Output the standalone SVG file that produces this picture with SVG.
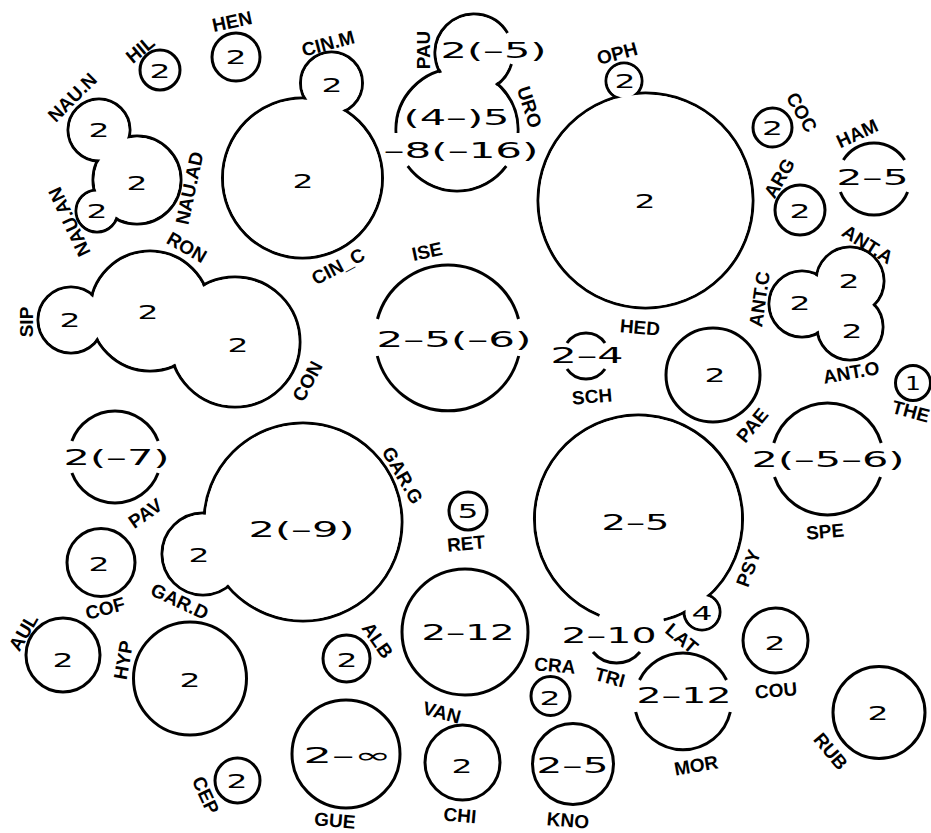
<svg xmlns="http://www.w3.org/2000/svg" width="931" height="833" viewBox="0 0 931 833">
<style>
.c{fill:none;stroke:#000;stroke-width:3}
.w{fill:#fff;stroke:none}
.n{font-family:"DejaVu Sans",sans-serif;font-size:21px;fill:#000}
.s{font-size:19px}
.l{font-family:"Liberation Sans",Arial,sans-serif;font-weight:bold;font-size:19px;text-anchor:middle;fill:#000}
</style>
<rect width="931" height="833" fill="#fff"/>

<g id="HIL"><circle class="c" cx="160" cy="70" r="20"/><text class="n s" x="149.5" y="78" textLength="21" lengthAdjust="spacingAndGlyphs">2</text><text class="l" x="140" y="49" dy="7" transform="rotate(-40 140 49)">HIL</text></g>
<g id="HEN"><circle class="c" cx="236" cy="57" r="24"/><text class="n s" x="225.5" y="64" textLength="21" lengthAdjust="spacingAndGlyphs">2</text><text class="l" x="232" y="21" dy="7" transform="rotate(-12 232 21)">HEN</text></g>

<g id="NAU">
<circle class="c" cx="99" cy="130" r="31"/><circle class="c" cx="137" cy="180" r="44"/><circle class="c" cx="97" cy="211" r="21"/>
<circle class="w" cx="99" cy="130" r="29.5"/><circle class="w" cx="137" cy="180" r="42.5"/><circle class="w" cx="97" cy="211" r="19.5"/>
<text class="n s" x="88.5" y="137" textLength="21" lengthAdjust="spacingAndGlyphs">2</text>
<text class="n s" x="126.5" y="190" textLength="21" lengthAdjust="spacingAndGlyphs">2</text>
<text class="n s" x="86.5" y="218" textLength="21" lengthAdjust="spacingAndGlyphs">2</text>
<text class="l" x="72" y="97" dy="7" transform="rotate(-45 72 97)">NAU.N</text>
<text class="l" x="189" y="188" dy="7" transform="rotate(-78 189 188)">NAU.AD</text>
<text class="l" x="69" y="222" dy="7" transform="rotate(-115 69 222)">NAU.AN</text>
</g>

<g id="CIN">
<circle class="c" cx="331.5" cy="83" r="31"/><circle class="c" cx="302.5" cy="178" r="80"/>
<circle class="w" cx="331.5" cy="83" r="29.5"/><circle class="w" cx="302.5" cy="178" r="78.5"/>
<text class="n s" x="321.5" y="92" textLength="21" lengthAdjust="spacingAndGlyphs">2</text>
<text class="n s" x="292.5" y="188" textLength="21" lengthAdjust="spacingAndGlyphs">2</text>
<text class="l" x="328" y="43" dy="7" transform="rotate(-15 328 43)">CIN.M</text>
<text class="l" x="338" y="266" dy="7" transform="rotate(-28 338 266)">CIN_C</text>
</g>

<g id="PAU_URO">
<path class="c" d="M511.4 64A39 39 0 1 1 507.5 33"/>
<path class="c" d="M396.1 133A61 61 0 1 1 517.9 133"/>
<path class="c" d="M506.2 166A61 61 0 0 1 407.8 166"/>
<circle class="w" cx="474" cy="53" r="37.5"/><circle class="w" cx="457" cy="130" r="59.5"/>
<text class="n" x="440.5" y="58" textLength="106" lengthAdjust="spacingAndGlyphs">2(–5)</text>
<text class="n" x="403.5" y="125" textLength="106" lengthAdjust="spacingAndGlyphs">(4–)5</text>
<text class="n" x="383.5" y="158" textLength="155" lengthAdjust="spacingAndGlyphs">–8(–16)</text>
<text class="l" x="423" y="50" dy="7" transform="rotate(-90 423 50)">PAU</text>
<text class="l" x="530" y="107" dy="7" transform="rotate(72 530 107)">URO</text>
</g>

<g id="HED_OPH">
<circle class="c" cx="624" cy="81" r="18"/><circle class="c" cx="645.5" cy="200.5" r="107.5"/>
<circle class="w" cx="624" cy="81" r="16.5"/><circle class="w" cx="645.5" cy="200.5" r="106"/>
<text class="n s" x="614.5" y="88" textLength="21" lengthAdjust="spacingAndGlyphs">2</text>
<text class="n s" x="634.5" y="208" textLength="21" lengthAdjust="spacingAndGlyphs">2</text>
<text class="l" x="617" y="53" dy="7" transform="rotate(-15 617 53)">OPH</text>
<text class="l" x="640" y="327" dy="7" transform="rotate(5 640 327)">HED</text>
</g>

<g id="COC"><circle class="c" cx="772.5" cy="127.5" r="19.5"/><text class="n s" x="762" y="135" textLength="21" lengthAdjust="spacingAndGlyphs">2</text><text class="l" x="802" y="112" dy="7" transform="rotate(60 802 112)">COC</text></g>
<g id="ARG"><circle class="c" cx="800" cy="210" r="25"/><text class="n s" x="789.5" y="218" textLength="21" lengthAdjust="spacingAndGlyphs">2</text><text class="l" x="779" y="178" dy="7" transform="rotate(-60 779 178)">ARG</text></g>
<g id="HAM">
<path class="c" d="M843.4 160A36 36 0 0 1 904.6 160"/><path class="c" d="M907.6 192A36 36 0 0 1 840.4 192"/>
<text class="n" x="836.5" y="185" textLength="72" lengthAdjust="spacingAndGlyphs">2–5</text>
<text class="l" x="857" y="133" dy="7" transform="rotate(-25 857 133)">HAM</text>
</g>

<g id="ANT">
<circle class="c" cx="850" cy="281" r="34"/><circle class="c" cx="802" cy="304" r="33"/><circle class="c" cx="850" cy="327" r="33"/>
<circle class="w" cx="850" cy="281" r="32.5"/><circle class="w" cx="802" cy="304" r="31.5"/><circle class="w" cx="850" cy="327" r="31.5"/>
<text class="n s" x="838.5" y="288" textLength="21" lengthAdjust="spacingAndGlyphs">2</text>
<text class="n s" x="789.5" y="310" textLength="21" lengthAdjust="spacingAndGlyphs">2</text>
<text class="n s" x="841.5" y="338" textLength="21" lengthAdjust="spacingAndGlyphs">2</text>
<text class="l" x="868" y="244" dy="7" transform="rotate(32 868 244)">ANT.A</text>
<text class="l" x="759" y="299" dy="7" transform="rotate(-82 759 299)">ANT.C</text>
<text class="l" x="851" y="372" dy="7" transform="rotate(-10 851 372)">ANT.O</text>
</g>

<g id="THE"><circle class="c" cx="913" cy="383" r="17.5"/><text class="n s" x="905" y="390" textLength="16" lengthAdjust="spacingAndGlyphs">1</text><text class="l" x="911" y="411" dy="7" transform="rotate(15 911 411)">THE</text></g>
<g id="PAE"><circle class="c" cx="713" cy="375" r="47"/><text class="n s" x="704.5" y="382" textLength="21" lengthAdjust="spacingAndGlyphs">2</text><text class="l" x="752" y="425" dy="7" transform="rotate(-50 752 425)">PAE</text></g>

<g id="SIP_RON_CON">
<circle class="c" cx="71" cy="320" r="33"/><circle class="c" cx="150" cy="311" r="60"/><circle class="c" cx="235" cy="342" r="65"/>
<circle class="w" cx="71" cy="320" r="31.5"/><circle class="w" cx="150" cy="311" r="58.5"/><circle class="w" cx="235" cy="342" r="63.5"/>
<text class="n s" x="59.5" y="327" textLength="21" lengthAdjust="spacingAndGlyphs">2</text>
<text class="n s" x="137.5" y="319" textLength="21" lengthAdjust="spacingAndGlyphs">2</text>
<text class="n s" x="227.5" y="352" textLength="21" lengthAdjust="spacingAndGlyphs">2</text>
<text class="l" x="26" y="322" dy="7" transform="rotate(-90 26 322)">SIP</text>
<text class="l" x="187" y="247" dy="7" transform="rotate(30 187 247)">RON</text>
<text class="l" x="307" y="381" dy="7" transform="rotate(-62 307 381)">CON</text>
</g>

<g id="ISE">
<path class="c" d="M377.5 319A73 73 0 0 1 518.5 319"/><path class="c" d="M518.7 356A73 73 0 0 1 377.3 356"/>
<text class="n" x="376.5" y="347" textLength="155" lengthAdjust="spacingAndGlyphs">2–5(–6)</text>
<text class="l" x="427" y="251" dy="7" transform="rotate(-12 427 251)">ISE</text>
</g>
<g id="SCH">
<path class="c" d="M567 343A23 23 0 0 1 605 343"/><path class="c" d="M605 369A23 23 0 0 1 567 369"/>
<text class="n" x="550.5" y="363" textLength="73" lengthAdjust="spacingAndGlyphs">2–4</text>
<text class="l" x="592" y="396" dy="7" transform="rotate(-5 592 396)">SCH</text>
</g>

<g id="PAV">
<path class="c" d="M71.9 441A46 46 0 0 1 158.1 441"/><path class="c" d="M158.1 473A46 46 0 0 1 71.9 473"/>
<text class="n" x="63.5" y="465" textLength="106" lengthAdjust="spacingAndGlyphs">2(–7)</text>
<text class="l" x="145" y="513" dy="7" transform="rotate(-35 145 513)">PAV</text>
</g>

<g id="GAR">
<circle class="c" cx="303" cy="522" r="99"/><circle class="c" cx="203" cy="554" r="41"/>
<circle class="w" cx="303" cy="522" r="97.5"/><circle class="w" cx="203" cy="554" r="39.5"/>
<text class="n" x="248.5" y="537" textLength="106" lengthAdjust="spacingAndGlyphs">2(–9)</text>
<text class="n s" x="188.5" y="562" textLength="21" lengthAdjust="spacingAndGlyphs">2</text>
<text class="l" x="403" y="475" dy="7" transform="rotate(60 403 475)">GAR.G</text>
<text class="l" x="180" y="601" dy="7" transform="rotate(25 180 601)">GAR.D</text>
</g>

<g id="COF"><circle class="c" cx="101" cy="562.5" r="34"/><text class="n s" x="88.5" y="571" textLength="21" lengthAdjust="spacingAndGlyphs">2</text><text class="l" x="105" y="608" dy="7" transform="rotate(-15 105 608)">COF</text></g>
<g id="RET"><circle class="c" cx="468" cy="511" r="19"/><text class="n s" x="457.5" y="518" textLength="21" lengthAdjust="spacingAndGlyphs">5</text><text class="l" x="466" y="543" dy="7" transform="rotate(-5 466 543)">RET</text></g>

<g id="SPE">
<path class="c" d="M773.8 443A56 56 0 0 1 881.2 443"/><path class="c" d="M880.5 477A56 56 0 0 1 774.5 477"/>
<text class="n" x="751.5" y="467" textLength="153" lengthAdjust="spacingAndGlyphs">2(–5–6)</text>
<text class="l" x="825" y="531" dy="7" transform="rotate(-5 825 531)">SPE</text>
</g>

<g id="PSY_LAT">
<path class="c" d="M599.5 615.4A104 104 0 1 1 663.7 619.9"/>
<circle class="c" cx="702" cy="612" r="18"/>
<circle class="w" cx="638.5" cy="519" r="102.5"/><circle class="w" cx="702" cy="612" r="16.5"/>
<text class="n" x="601.5" y="530" textLength="68" lengthAdjust="spacingAndGlyphs">2–5</text>
<text class="n s" x="691.5" y="620" textLength="21" lengthAdjust="spacingAndGlyphs">4</text>
<text class="l" x="748" y="568" dy="7" transform="rotate(-70 748 568)">PSY</text>
<text class="l" x="682" y="638" dy="7" transform="rotate(40 682 638)">LAT</text>
</g>

<g id="TRI">
<path class="c" d="M593 652A30.6 30.6 0 0 0 640 652"/>
<text class="n" x="561.5" y="643" textLength="95" lengthAdjust="spacingAndGlyphs">2–10</text>
<text class="l" x="610" y="677" dy="7" transform="rotate(15 610 677)">TRI</text>
</g>

<g id="VAN"><circle class="c" cx="465" cy="632" r="63"/><text class="n" x="421.5" y="640" textLength="93" lengthAdjust="spacingAndGlyphs">2–12</text><text class="l" x="442" y="712" dy="7" transform="rotate(15 442 712)">VAN</text></g>

<g id="MOR">
<path class="c" d="M639.5 680A48.5 48.5 0 0 1 726.5 680"/><path class="c" d="M730.3 712A48.5 48.5 0 0 1 635.7 712"/>
<text class="n" x="636.5" y="703" textLength="95" lengthAdjust="spacingAndGlyphs">2–12</text>
<text class="l" x="696" y="765" dy="7" transform="rotate(-10 696 765)">MOR</text>
</g>

<g id="COU"><circle class="c" cx="775.5" cy="640.5" r="32.5"/><text class="n s" x="764.5" y="650" textLength="21" lengthAdjust="spacingAndGlyphs">2</text><text class="l" x="776" y="690" dy="7" transform="rotate(-5 776 690)">COU</text></g>
<g id="RUB"><circle class="c" cx="879" cy="712.5" r="46"/><text class="n s" x="867.5" y="720" textLength="21" lengthAdjust="spacingAndGlyphs">2</text><text class="l" x="831" y="751" dy="7" transform="rotate(50 831 751)">RUB</text></g>
<g id="CRA"><circle class="c" cx="550.5" cy="696" r="19.5"/><text class="n s" x="539.5" y="705" textLength="21" lengthAdjust="spacingAndGlyphs">2</text><text class="l" x="555" y="665" dy="7" transform="rotate(5 555 665)">CRA</text></g>
<g id="KNO"><circle class="c" cx="573" cy="764" r="40.5"/><text class="n" x="536.5" y="773" textLength="72" lengthAdjust="spacingAndGlyphs">2–5</text><text class="l" x="568" y="820" dy="7" transform="rotate(5 568 820)">KNO</text></g>
<g id="CHI"><circle class="c" cx="462.5" cy="762.5" r="37.5"/><text class="n s" x="451.5" y="773" textLength="21" lengthAdjust="spacingAndGlyphs">2</text><text class="l" x="460" y="815" dy="7" transform="rotate(5 460 815)">CHI</text></g>
<g id="GUE"><circle class="c" cx="346" cy="754" r="54"/><text class="n" x="303.5" y="763" textLength="88" lengthAdjust="spacingAndGlyphs">2–∞</text><text class="l" x="335" y="820" dy="7" transform="rotate(5 335 820)">GUE</text></g>
<g id="CEP"><circle class="c" cx="237.5" cy="780.5" r="22.5"/><text class="n s" x="226.5" y="788" textLength="21" lengthAdjust="spacingAndGlyphs">2</text><text class="l" x="206" y="795" dy="7" transform="rotate(65 206 795)">CEP</text></g>
<g id="ALB"><circle class="c" cx="346.5" cy="658.5" r="23.5"/><text class="n s" x="336.5" y="667" textLength="21" lengthAdjust="spacingAndGlyphs">2</text><text class="l" x="378" y="640" dy="7" transform="rotate(55 378 640)">ALB</text></g>
<g id="HYP"><circle class="c" cx="190" cy="678.5" r="56.5"/><text class="n s" x="179.5" y="687" textLength="21" lengthAdjust="spacingAndGlyphs">2</text><text class="l" x="123" y="660" dy="7" transform="rotate(-80 123 660)">HYP</text></g>
<g id="AUL"><circle class="c" cx="63" cy="655" r="37"/><text class="n s" x="52.5" y="667" textLength="21" lengthAdjust="spacingAndGlyphs">2</text><text class="l" x="23" y="632" dy="7" transform="rotate(-60 23 632)">AUL</text></g>
</svg>
